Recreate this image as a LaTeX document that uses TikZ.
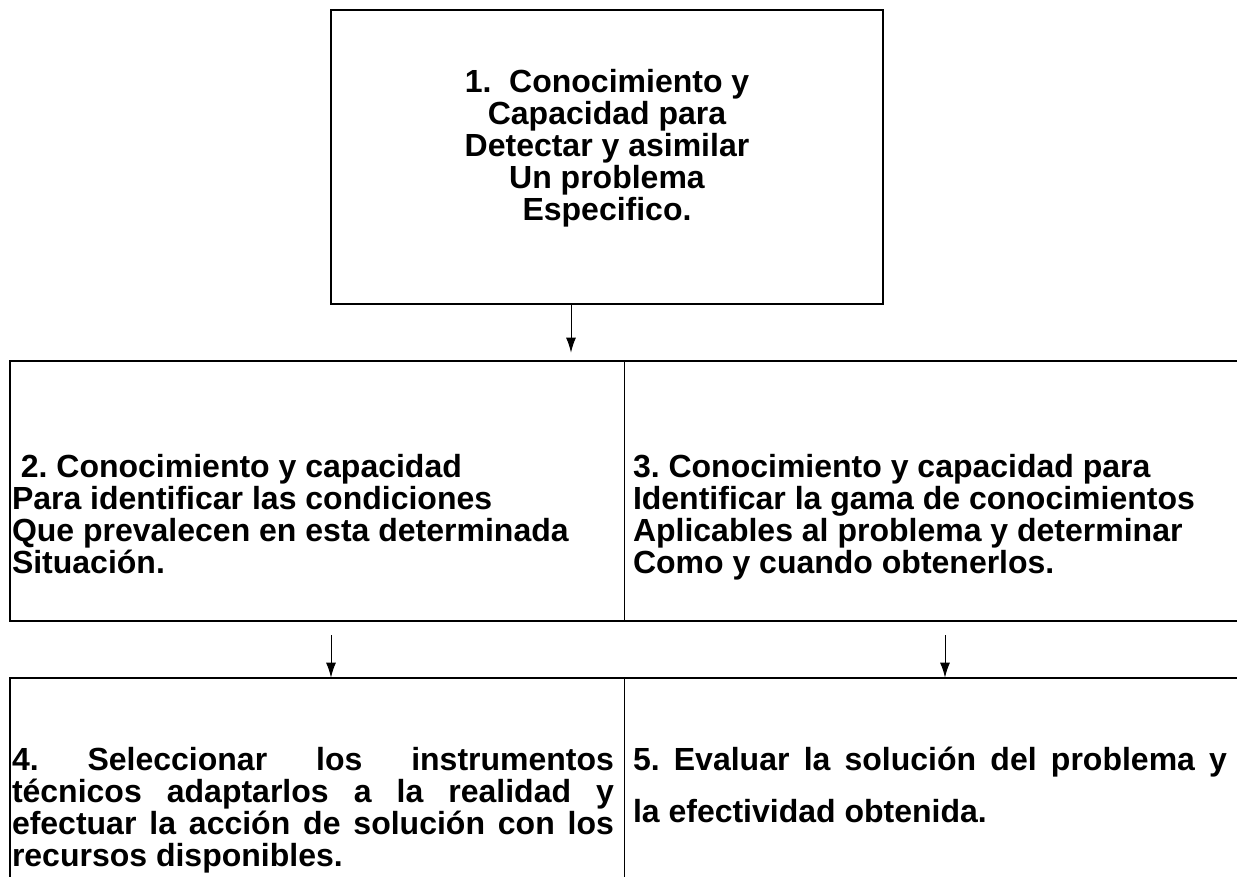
\documentclass[tikz,border=0pt]{standalone}
\usepackage{fontspec}
\setmainfont{Liberation Sans}
\usetikzlibrary{arrows.meta}
\frenchspacing
\begin{document}
\begin{tikzpicture}[x=0.5pt,y=-0.5pt]
    \tikzstyle{every node}=[inner sep=0pt, font=\fontsize{16}{16}\selectfont\bfseries]
    \tikzstyle{cell}=[rectangle, minimum width=307pt]
    \tikzstyle{frame}=[line width=1pt]
    \tikzstyle{divider}=[line width=0.5pt]
    \tikzstyle{flecha}=[line width=0.5pt, -{Latex[length=7.5pt,width=5pt]}]
    \useasboundingbox (0,0) rectangle (1237,877);
    \clip (0,0) rectangle (1237,877);
    \node [draw, frame, minimum width=276pt, minimum height=147pt] (b1) at (607,157) {};
    \node [cell, minimum height=130pt] (b2) at (317,491) {};
    \node [cell, minimum height=130pt, minimum width=310pt] (b3) at (934,491) {};
    \node [cell, minimum height=111pt] (b4) at (317,789) {};
    \node [cell, minimum height=111pt, minimum width=310pt] (b5) at (934,789) {};
    \draw [frame] (b2.north west) rectangle (b3.south east);
    \draw [divider] (b2.north east) -- (b2.south east);
    \draw [frame] (b4.north west) rectangle (b5.south east);
    \draw [divider] (b4.north east) -- (b4.south east);
    \node [align=center, anchor=north] (t1) at ([yshift=-30pt]b1.north) {1.~~Conocimiento y\\Capacidad para\\Detectar y asimilar\\Un problema\\Especifico.};
    \node [align=left, anchor=north west] (t2) at ([shift={(2,93)}]b2.north west) {\ 2. Conocimiento y capacidad\\Para identificar las condiciones\\Que prevalecen en esta determinada\\Situación.};
    \node [align=left, anchor=north west] (t3) at ([shift={(9,93)}]b3.north west) {3. Conocimiento y capacidad para\\Identificar la gama de conocimientos\\Aplicables al problema y determinar\\Como y cuando obtenerlos.};
    \node [text width=301pt, align=justify, anchor=north west] (t4) at ([shift={(2,69)}]b4.north west) {4. Seleccionar los instrumentos\linebreak técnicos adaptarlos a la realidad y\linebreak efectuar la acción de solución con los\linebreak recursos disponibles.};
    \node [text width=297pt, align=justify, anchor=north west, font=\fontsize{16}{26}\selectfont\bfseries] (t5) at ([shift={(9,69)}]b5.north west) {5. Evaluar la solución del problema y\linebreak la efectividad obtenida.};
    \coordinate (p1) at (571,0);
    \coordinate (p2) at (331,0);
    \coordinate (p3) at (945,0);
    \draw [flecha, shorten >=4pt] (b1.south -| p1) -- (b2.north -| p1);
    \draw [flecha] ([yshift=-7pt]b2.south -| p2) -- (b4.north -| p2);
    \draw [flecha] ([yshift=-7pt]b3.south -| p3) -- (b5.north -| p3);
\end{tikzpicture}
\end{document}
